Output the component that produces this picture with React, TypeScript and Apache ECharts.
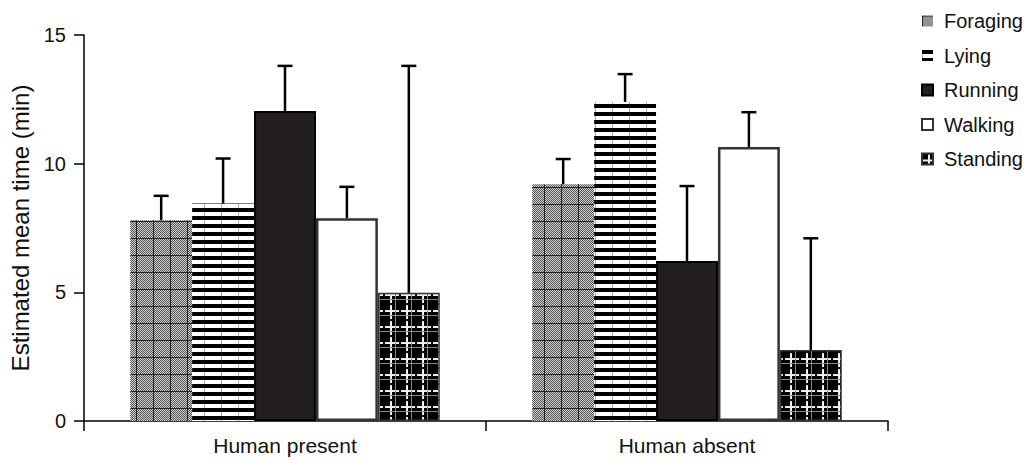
import React, { useEffect, useRef } from "react";
import * as echarts from "echarts";

const categories = ["Human present", "Human absent"];
const seriesNames = ["Foraging", "Lying", "Running", "Walking", "Standing"];
const foraging = [7.8, 9.2];
const lying = [8.45, 12.4];
const running = [12.05, 6.22];
const walking = [7.88, 10.65];
const standing = [4.98, 2.76];
const foragingErr = [8.75, 10.18];
const lyingErr = [10.2, 13.48];
const runningErr = [13.8, 9.13];
const walkingErr = [9.1, 12.0];
const standingErr = [13.8, 7.1];
const yTicks = [0, 5, 10, 15];

const FONT = "'Liberation Sans', Arial, Helvetica, sans-serif";
const CAT_GAP = 0.23;

function makeTile(w: number, h: number, draw: (ctx: CanvasRenderingContext2D) => void) {
  const c = document.createElement("canvas");
  c.width = w;
  c.height = h;
  const ctx = c.getContext("2d")!;
  draw(ctx);
  return c;
}

export default function App() {
  const ref = useRef<HTMLDivElement>(null);
  useEffect(() => {
    if (!ref.current) return;
    const chart = echarts.init(ref.current, null, { renderer: "svg" });

    const forTile = makeTile(17, 17, (ctx) => {
      for (let y = 0; y < 17; y++)
        for (let x = 0; x < 17; x++) {
          ctx.fillStyle = (x + y) % 2 === 0 ? "#555" : "#d0d0d0";
          ctx.fillRect(x, y, 1, 1);
        }
      ctx.fillStyle = "#222";
      ctx.fillRect(0, 0, 17, 1);
      ctx.fillRect(0, 0, 1, 17);
    });
    const lyTile = makeTile(17, 8, (ctx) => {
      ctx.fillStyle = "#fff";
      ctx.fillRect(0, 0, 17, 8);
      ctx.fillStyle = "#000";
      ctx.fillRect(0, 0, 17, 4);
      ctx.fillStyle = "#aaa";
      ctx.fillRect(0, 4, 1, 4);
    });
    const stTile = makeTile(16, 16, (ctx) => {
      ctx.fillStyle = "#000";
      ctx.fillRect(0, 0, 16, 16);
      ctx.fillStyle = "#eee";
      ctx.fillRect(6, 1, 2, 14);
      ctx.fillRect(1, 6, 14, 2);
      ctx.fillStyle = "#888";
      ctx.fillRect(0, 11, 16, 1);
      ctx.fillRect(11, 0, 1, 16);
    });

    const values = [foraging, lying, running, walking, standing];
    const errs = [foragingErr, lyingErr, runningErr, walkingErr, standingErr];
    const styles: any[] = [
      { color: { image: forTile, repeat: "repeat" }, borderWidth: 0 },
      { color: { image: lyTile, repeat: "repeat" }, borderWidth: 0 },
      { color: "#231f20", borderColor: "#000", borderWidth: 2 },
      { color: "#ffffff", borderColor: "#333", borderWidth: 2.5 },
      { color: { image: stTile, repeat: "repeat" }, borderColor: "#333", borderWidth: 1.5 },
    ];

    const barSeries = seriesNames.map((name, i) => ({
      name,
      type: "bar",
      data: values[i],
      barGap: "0%",
      barCategoryGap: CAT_GAP * 100 + "%",
      itemStyle: styles[i],
      z: 2,
    }));

    const errSeries = seriesNames.map((name, i) => ({
      name: name + " error",
      type: "custom",
      z: 3,
      data: categories.map((_, c) => [c, values[i][c], errs[i][c]]),
      encode: { x: 0, y: 2 },
      renderItem: (params: any, api: any) => {
        const cat = api.value(0);
        const base = api.coord([cat, api.value(1)]);
        const top = api.coord([cat, api.value(2)]);
        const band = api.size([1, 0])[0];
        const groupW = band * (1 - CAT_GAP);
        const bw = groupW / 5;
        const x = base[0] - groupW / 2 + bw * (i + 0.5);
        const st = { stroke: "#000", lineWidth: 2.5 };
        return {
          type: "group",
          children: [
            { type: "line", shape: { x1: x, y1: base[1], x2: x, y2: top[1] }, style: st },
            { type: "line", shape: { x1: x - 7.5, y1: top[1], x2: x + 7.5, y2: top[1] }, style: st },
          ],
        };
      },
    }));

    chart.setOption({
      animation: false,
      backgroundColor: "#fff",
      textStyle: { fontFamily: FONT },
      grid: { left: 83, right: 140, top: 35, bottom: 39, containLabel: false },
      legend: {
        data: seriesNames,
        orient: "vertical",
        left: 916,
        top: 6,
        icon: "rect",
        itemWidth: 11,
        itemHeight: 11,
        itemGap: 14.5,
        selectedMode: false,
        textStyle: { fontSize: 20, color: "#111", fontFamily: FONT, lineHeight: 20, padding: [0, 0, 0, 6] },
      },
      xAxis: {
        type: "category",
        data: categories,
        axisLine: { lineStyle: { color: "#000", width: 1.5 } },
        axisTick: { show: true, length: 10, lineStyle: { color: "#000", width: 1.5 } },
        axisLabel: { fontSize: 21, color: "#111", margin: 14, fontFamily: FONT },
      },
      yAxis: {
        type: "value",
        min: 0,
        max: 15,
        interval: 5,
        name: "Estimated mean time (min)",
        nameLocation: "middle",
        nameGap: 52,
        nameTextStyle: { fontSize: 24, color: "#111", fontFamily: FONT },
        splitLine: { show: false },
        axisLine: { show: true, lineStyle: { color: "#000", width: 1.5 } },
        axisTick: { show: true, length: 10, lineStyle: { color: "#000", width: 1.5 } },
        axisLabel: {
          fontSize: 20,
          color: "#111",
          margin: 18,
          fontFamily: FONT,
          formatter: (v: number) => (yTicks.includes(v) ? String(v) : ""),
        },
      },
      series: [...barSeries, ...errSeries],
    });
    return () => chart.dispose();
  }, []);
  return <div ref={ref} style={{ position: "absolute", left: 0, top: 0, width: 1028, height: 460 }} />;
}
